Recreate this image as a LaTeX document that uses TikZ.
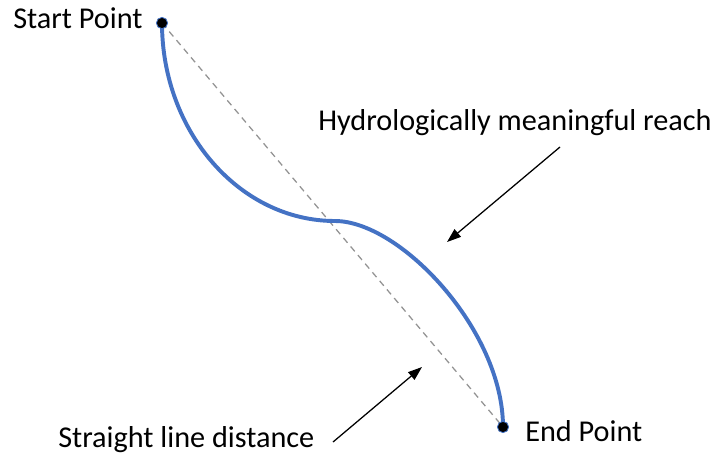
\documentclass[tikz,border=0pt]{standalone}
\usepackage{fontspec}
\setmainfont{Carlito}
\usetikzlibrary{arrows.meta}
\definecolor{reachblue}{HTML}{4472C4}

\begin{document}
\begin{tikzpicture}[
    x=0.025cm, y=-0.025cm,
    font=\fontsize{21.5}{25}\selectfont,
    dot/.style={circle, fill=black, draw=reachblue, line width=0.6pt, inner sep=0pt, minimum size=8pt},
    txt/.style={inner sep=0pt, anchor=base west},
    reach/.style={draw=reachblue, line width=2.8pt},
    straight/.style={draw=gray!85, dash pattern=on 4.5pt off 3.5pt, line width=0.9pt},
    pointer/.style={-{Triangle[length=10pt,width=7pt]}, line width=0.9pt}
]
\useasboundingbox (0,0) rectangle (714,461);

\coordinate (start) at (162,23);
\coordinate (mid) at (335,221);
\coordinate (end) at (503,427);

% straight line and reach
\draw[straight] (start) -- (end);
\draw[reach] (start) .. controls (162,132) and (240,221) .. (mid)
             .. controls (400,221) and (503,330) .. (end);
\node[dot] (startdot) at (start) {};
\node[dot] (enddot) at (end) {};

\node[txt] (startlbl) at (13,28) {Start Point};
\node[txt] (endlbl) at (525,441) {End Point};
\node[txt] (reachlbl) at (318,130) {Hydrologically meaningful reach};
\node[txt] (distlbl) at (58,447) {Straight line distance};

\coordinate (reachtail) at (560,147);
\coordinate (reachhead) at (447,242);
\coordinate (disttail) at (333,442);
\coordinate (disthead) at (422,367);
\draw[pointer] (reachtail) -- (reachhead);
\draw[pointer] (disttail) -- (disthead);
\end{tikzpicture}
\end{document}
